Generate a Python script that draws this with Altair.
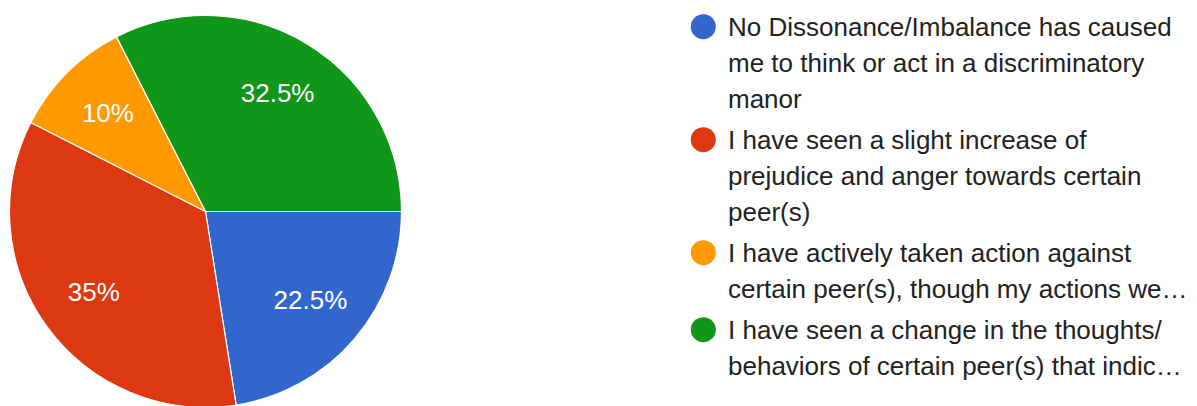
import math
import altair as alt
import pandas as pd

# ---- data ----
categories = [
    "No Dissonance/Imbalance has caused me to think or act in a discriminatory manor",
    "I have seen a slight increase of prejudice and anger towards certain peer(s)",
    "I have actively taken action against certain peer(s), though my actions we…",
    "I have seen a change in the thoughts/behaviors of certain peer(s) that indic…",
]
values = [22.5, 35, 10, 32.5]
colors = ["#3366cc", "#dc3912", "#ff9900", "#109618"]
legend_lines = [
    ["No Dissonance/Imbalance has caused", "me to think or act in a discriminatory", "manor"],
    ["I have seen a slight increase of", "prejudice and anger towards certain", "peer(s)"],
    ["I have actively taken action against", "certain peer(s), though my actions we…"],
    ["I have seen a change in the thoughts/", "behaviors of certain peer(s) that indic…"],
]

pie_df = pd.DataFrame({"category": categories, "value": values, "order": list(range(len(values)))})

rows = []
line_idx = 0
for e, lines in enumerate(legend_lines):
    for k, t in enumerate(lines):
        rows.append({"text": t, "line": line_idx, "entry": e, "first": k == 0,
                     "category": categories[e]})
        line_idx += 1
leg_df = pd.DataFrame(rows)

color_scale = alt.Scale(domain=categories, range=colors)
CX, CY, R = 205.5, 211.5, 196

base = alt.Chart(pie_df).encode(
    theta=alt.Theta("value:Q", stack=True,
                    scale=alt.Scale(range=[math.pi / 2, math.pi / 2 + 2 * math.pi])),
    order=alt.Order("order:Q"),
    color=alt.Color("category:N", scale=color_scale, legend=None),
)

arcs = base.mark_arc(radius=R, stroke="white", strokeWidth=1.2).encode(
    x=alt.value(CX), y=alt.value(CY)
)

pct = base.transform_calculate(pct="datum.value / 100").mark_text(
    radius=138, font="Liberation Sans", fontSize=26, color="white",
    align="center", baseline="middle"
).encode(
    x=alt.value(CX), y=alt.value(CY),
    text=alt.Text("pct:Q", format=".3~%"),
    color=alt.value("white"),
)

leg_base = alt.Chart(leg_df).transform_calculate(
    ypos="35.7 + 36 * datum.line + 5 * datum.entry"
)

leg_text = leg_base.mark_text(
    font="Liberation Sans", fontSize=26, color="#222222", align="left", baseline="alphabetic"
).encode(
    x=alt.value(728),
    y=alt.Y("ypos:Q", scale=None, axis=None),
    text="text:N",
)

leg_dots = leg_base.transform_filter("datum.first").transform_calculate(
    cy="datum.ypos - 9"
).mark_circle(size=625, opacity=1).encode(
    x=alt.value(703.3),
    y=alt.Y("cy:Q", scale=None, axis=None),
    color=alt.Color("category:N", scale=color_scale, legend=None),
)

chart = alt.layer(arcs, pct, leg_dots, leg_text).properties(
    width=1197, height=406, padding=0, autosize=alt.AutoSizeParams(type="none"),
    background="white",
).configure_view(stroke=None).resolve_scale(color="shared")

chart.save("out.html", embed_options={"renderer": "svg", "actions": False})
